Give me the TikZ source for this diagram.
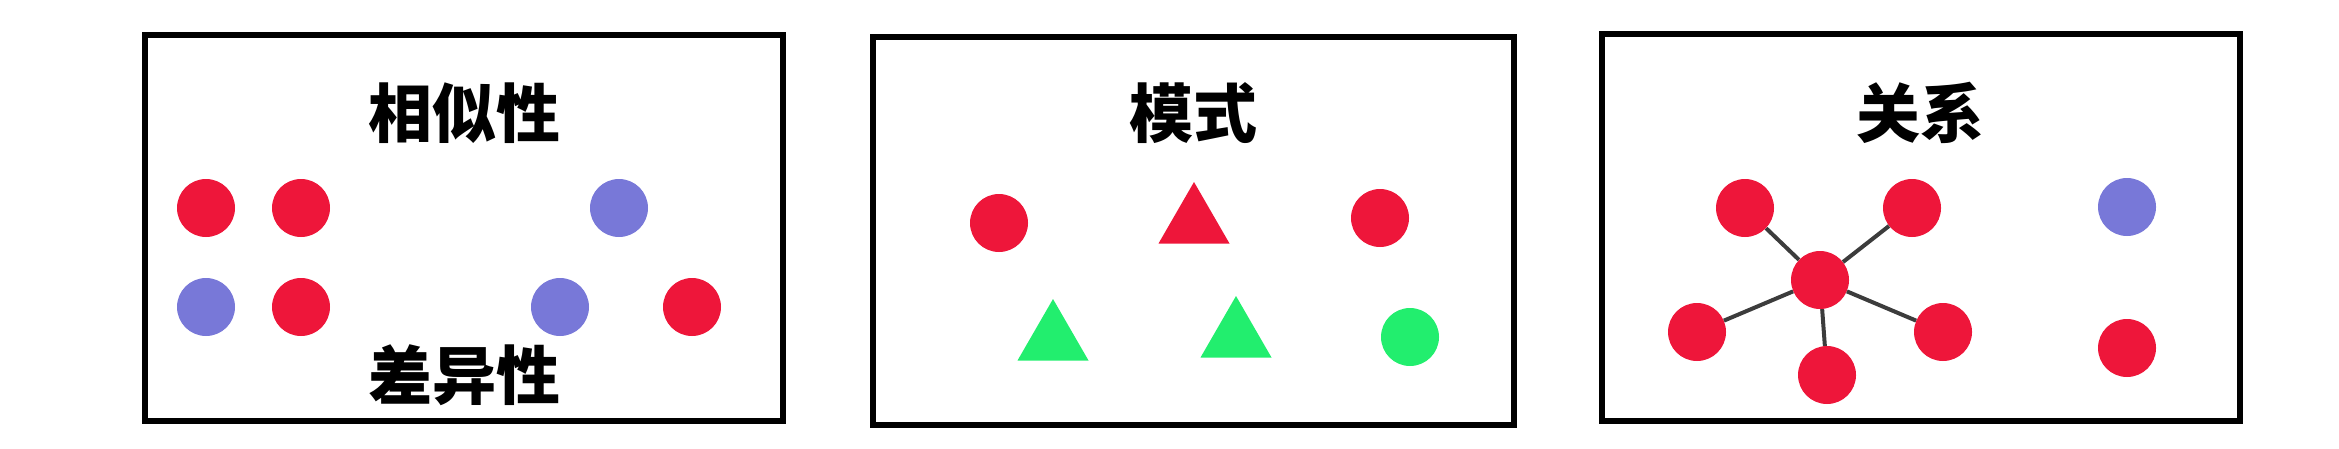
\documentclass[tikz,border=0pt]{standalone}
\usepackage{fontspec}
\newfontfamily\cjk{Noto Sans CJK SC}
\usetikzlibrary{shapes,positioning}
\definecolor{dotred}{RGB}{238,22,58}
\definecolor{dotblue}{RGB}{120,120,216}
\definecolor{dotgreen}{RGB}{34,238,110}
\definecolor{linkgray}{RGB}{60,60,60}

\begin{document}
\begin{tikzpicture}[x=1pt,y=-1pt,
	panel/.style={rectangle,draw,line width=6pt,inner sep=0pt},
	title/.style={font=\cjk\bfseries\fontsize{64}{70}\selectfont,inner sep=0pt},
	dot/.style={circle,fill=#1,inner sep=0pt,minimum size=58pt},
	tri/.style={regular polygon,regular polygon sides=3,fill=#1,inner sep=0pt,minimum size=82pt},
	link/.style={draw=linkgray,line width=4pt}]
\useasboundingbox (0,0) rectangle (2339,448);

% similarity / difference
\node [panel,minimum width=638pt,minimum height=386pt] (p1) at (464,228) {};
\node [title] (t1) at (464,113) {相似性};
\node [title] (t2) at (464,375) {差异性};
\node [dot=dotred] (a1) at (206,208) {};
\node [dot=dotred] (a2) at (301,208) {};
\node [dot=dotblue] (a3) at (619,208) {};
\node [dot=dotblue] (a4) at (206,307) {};
\node [dot=dotred] (a5) at (301,307) {};
\node [dot=dotblue] (a6) at (560,307) {};
\node [dot=dotred] (a7) at (692,307) {};

% pattern
\node [panel,minimum width=641pt,minimum height=388pt] (p2) at (1193,231) {};
\node [title] (t3) at (1193,113) {模式};
\node [dot=dotred] (b1) at (999,223) {};
\node [tri=dotred] (b2) at (1194,223) {};
\node [dot=dotred] (b3) at (1380,218) {};
\node [tri=dotgreen] (b4) at (1053,340) {};
\node [tri=dotgreen] (b5) at (1236,337) {};
\node [dot=dotgreen] (b6) at (1410,337) {};

% relation
\node [panel,minimum width=638pt,minimum height=387pt] (p3) at (1921,227) {};
\node [title] (t4) at (1920,113) {关系};
\node [dot=dotred] (c0) at (1820,280) {};
\node [dot=dotred] (c1) at (1745,208) {};
\node [dot=dotred] (c2) at (1912,208) {};
\node [dot=dotred] (c3) at (1697,332) {};
\node [dot=dotred] (c4) at (1943,332) {};
\node [dot=dotred] (c5) at (1827,375) {};
\node [dot=dotblue] (c6) at (2127,207) {};
\node [dot=dotred] (c7) at (2127,348) {};
\draw [link] (c0) -- (c1);
\draw [link] (c0) -- (c2);
\draw [link] (c0) -- (c3);
\draw [link] (c0) -- (c4);
\draw [link] (c0) -- (c5);
\end{tikzpicture}
\end{document}
